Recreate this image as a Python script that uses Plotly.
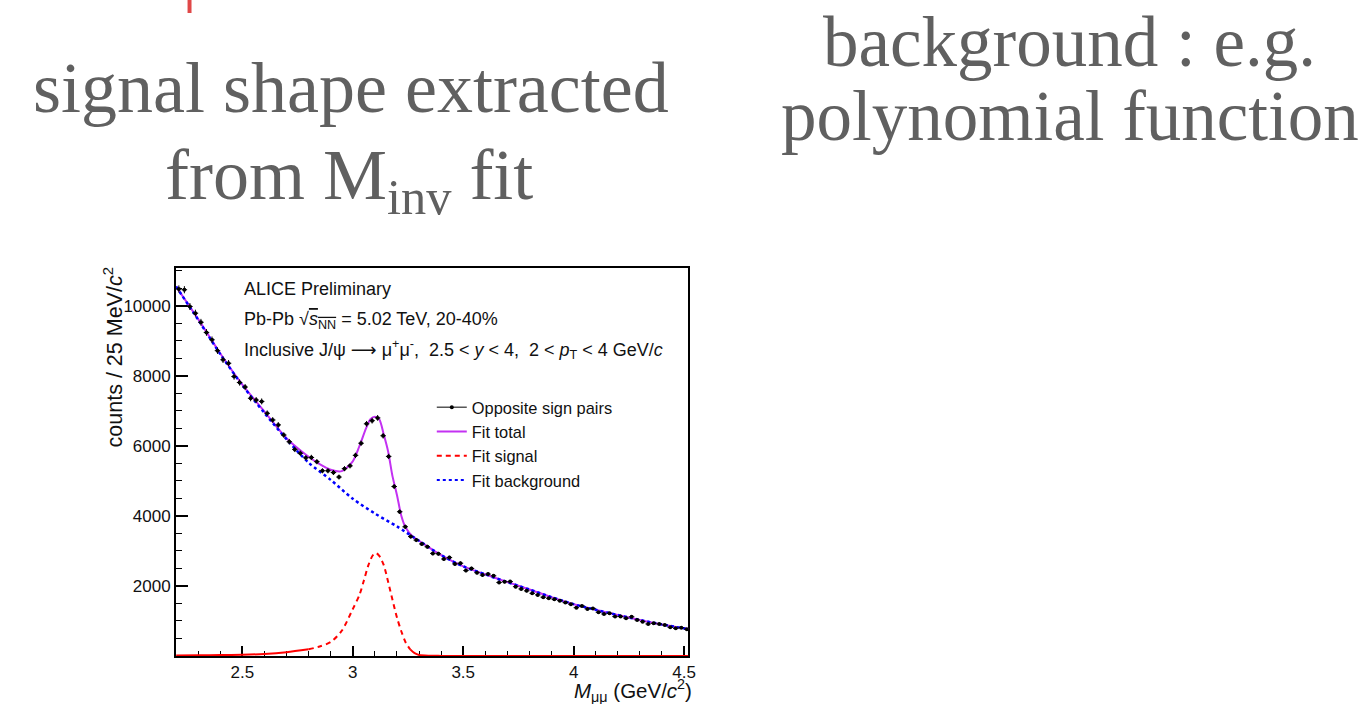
import numpy as np
import plotly.graph_objects as go

# ---------------- data ----------------
# opposite-sign dimuon counts, 25 MeV bins starting at 2.2 GeV/c^2
bin_low = 2.2
bin_width = 0.025
counts = [
    10480, 10460, 9980, 9790, 9530, 9240, 9030, 8720, 8460, 8360,
    7980, 7810, 7680, 7360, 7310, 7270, 6930, 6740, 6600, 6310,
    6120, 5900, 5790, 5660, 5670, 5550, 5290, 5290, 5240, 5110,
    5350, 5430, 5730, 6076, 6630, 6720, 6800, 6290, 5700, 4840,
    4120, 3690, 3410, 3310, 3200, 3120, 2930, 2920, 2770, 2810,
    2630, 2650, 2440, 2500, 2380, 2310, 2340, 2290, 2100, 2120,
    2125, 1980, 1915, 1860, 1790, 1745, 1680, 1650, 1620, 1580,
    1525, 1480, 1380, 1430, 1345, 1360, 1250, 1200, 1220, 1125,
    1125, 1080, 1120, 1030, 980, 915, 935, 915, 885, 820,
    790, 810, 765,
]
mass = [bin_low + bin_width * (i + 0.5) for i in range(len(counts))]
count_err = [v ** 0.5 for v in counts]

# fit total
total_x = [2.2, 2.3, 2.4, 2.5, 2.6, 2.7, 2.8, 2.85, 2.9, 2.95, 3.0, 3.03, 3.06,
           3.08, 3.1, 3.12, 3.14, 3.16, 3.18, 3.2, 3.22, 3.24, 3.27, 3.3, 3.35,
           3.4, 3.5, 3.6, 3.7, 3.8, 3.9, 4.0, 4.1, 4.2, 4.3, 4.4, 4.5, 4.52]
total_y = [10550, 9620, 8640, 7750, 6980, 6220, 5690, 5480, 5320, 5280, 5560,
           5990, 6500, 6760, 6830, 6760, 6330, 5840, 5130, 4600, 4000, 3660,
           3420, 3290, 3080, 2880, 2560, 2330, 2110, 1900, 1680, 1480, 1320,
           1170, 1030, 900, 790, 770]

# fit background (blue dotted curve)
bkg_x = [2.2, 2.3, 2.4, 2.5, 2.6, 2.7, 2.8, 2.9, 3.0, 3.1, 3.2, 3.3, 3.4, 3.5,
         3.6, 3.7, 3.8, 3.9, 4.0, 4.1, 4.2, 4.3, 4.4, 4.5, 4.52]
bkg_y = [10550, 9600, 8620, 7730, 6940, 6190, 5520, 5030, 4490, 4070, 3700,
         3290, 2880, 2560, 2330, 2110, 1900, 1680, 1480, 1320, 1170, 1030,
         900, 790, 770]

# fit signal (red dashed curve)
sig_x = [2.2, 2.3, 2.4, 2.5, 2.6, 2.7, 2.8, 2.85, 2.9, 2.95, 3.0, 3.03, 3.05,
         3.07, 3.09, 3.105, 3.12, 3.14, 3.16, 3.18, 3.2, 3.22, 3.24, 3.26,
         3.28, 3.3, 3.35, 3.4, 3.5, 4.0, 4.52]
sig_y = [15, 20, 25, 35, 60, 110, 190, 270, 400, 720, 1340, 1740, 2150, 2580,
         2870, 2940, 2860, 2600, 2120, 1600, 1100, 700, 380, 190, 80, 30, 8, 3,
         0, 0, 0]

y_ticks = [2000, 4000, 6000, 8000, 10000]
x_ticks = [2.5, 3, 3.5, 4, 4.5]

# ---------------- figure ----------------
W, H = 1372, 704
SANS = "Liberation Sans, Arial, DejaVu Sans, sans-serif"
SERIF = "Liberation Serif, Times New Roman, serif"
GREY = "#606060"
MAGENTA = "#c331f2"

# split the signal curve: low tails drawn solid (as they appear), peak dashed
tail_thr = 200
peak_idx = [i for i, v in enumerate(sig_y) if v >= tail_thr]
p0, p1 = peak_idx[0] - 1, peak_idx[-1] + 1
tail_x = sig_x[:p0 + 1] + [None] + sig_x[p1:]
tail_y = sig_y[:p0 + 1] + [None] + sig_y[p1:]
peak_x = sig_x[p0:p1 + 1]
peak_y = sig_y[p0:p1 + 1]

fig = go.Figure()

fig.add_trace(go.Scatter(x=total_x, y=total_y, mode="lines",
                         line=dict(color=MAGENTA, width=2, shape="spline", smoothing=0.8),
                         name="Fit total", showlegend=False, hoverinfo="skip"))
fig.add_trace(go.Scatter(x=tail_x, y=tail_y, mode="lines", connectgaps=False,
                         line=dict(color="#ff0000", width=2, shape="spline", smoothing=0.8),
                         name="Fit signal", showlegend=False, hoverinfo="skip"))
fig.add_trace(go.Scatter(x=peak_x, y=peak_y, mode="lines",
                         line=dict(color="#ff0000", width=2, dash="5px,4px", shape="spline", smoothing=0.8),
                         name="Fit signal", showlegend=False, hoverinfo="skip"))
fig.add_trace(go.Scatter(x=bkg_x, y=bkg_y, mode="lines",
                         line=dict(color="#0000ff", width=2.5, dash="3px,3px", shape="spline", smoothing=0.8),
                         name="Fit background", showlegend=False, hoverinfo="skip"))
fig.add_trace(go.Scatter(x=mass, y=counts, mode="markers",
                         marker=dict(color="black", size=4),
                         error_x=dict(type="constant", value=bin_width / 2, color="black", thickness=1, width=0),
                         error_y=dict(type="data", array=count_err, color="black", thickness=1, width=0),
                         name="Opposite sign pairs", showlegend=False))

# legend-only entries
fig.add_trace(go.Scatter(x=[None], y=[None], mode="lines+markers",
                         line=dict(color="black", width=1), marker=dict(color="black", size=4),
                         name="Opposite sign pairs"))
fig.add_trace(go.Scatter(x=[None], y=[None], mode="lines",
                         line=dict(color=MAGENTA, width=2), name="Fit total"))
fig.add_trace(go.Scatter(x=[None], y=[None], mode="lines",
                         line=dict(color="#ff0000", width=2, dash="5px,4px"), name="Fit signal"))
fig.add_trace(go.Scatter(x=[None], y=[None], mode="lines",
                         line=dict(color="#0000ff", width=2, dash="3px,3px"), name="Fit background"))

x0, x1 = 177 / W, 692 / W
y0, y1 = 1 - 656 / H, 1 - 268 / H

fig.update_layout(
    width=W, height=H,
    margin=dict(l=0, r=0, t=0, b=0),
    paper_bgcolor="white", plot_bgcolor="white",
    font=dict(family=SANS, color="black"),
    showlegend=True,
    legend=dict(x=434 / W, y=1 - 390 / H, xanchor="left", yanchor="top",
                bgcolor="rgba(0,0,0,0)", borderwidth=0,
                font=dict(family=SANS, size=16.4, color="#111"),
                itemwidth=30, tracegroupgap=0),
    xaxis=dict(domain=[x0, x1], range=[2.2, 4.52], tickmode="array", tickvals=x_ticks,
               ticktext=[f"{v:g}" for v in x_ticks],
               ticks="inside", ticklen=10, tickwidth=1.5, tickcolor="black",
               minor=dict(ticks="inside", ticklen=5, tickwidth=1.2, tickcolor="black",
                          tickmode="linear", tick0=2.2, dtick=0.1),
               showline=True, linecolor="black", linewidth=2, mirror=True,
               showgrid=False, zeroline=False, layer="below traces",
               tickfont=dict(family=SANS, size=17, color="#111")),
    yaxis=dict(domain=[y0, y1], range=[0, 11080], tickmode="array", tickvals=y_ticks,
               ticktext=[str(v) for v in y_ticks],
               ticks="inside", ticklen=12, tickwidth=1.5, tickcolor="black",
               minor=dict(ticks="inside", ticklen=6, tickwidth=1.2, tickcolor="black",
                          tickmode="linear", tick0=0, dtick=500),
               showline=True, linecolor="black", linewidth=2, mirror=True,
               showgrid=False, zeroline=False, layer="below traces",
               tickfont=dict(family=SANS, size=17, color="#111")),
)

ann = []
# slide text
ann.append(dict(text="signal shape extracted", x=353 / W, y=1 - 88 / H, xref="paper", yref="paper",
                xanchor="center", yanchor="middle", showarrow=False,
                font=dict(family=SERIF, size=72, color=GREY)))
ann.append(dict(text="from M<sub>inv</sub> fit", x=351 / W, y=1 - 180 / H, xref="paper", yref="paper",
                xanchor="center", yanchor="middle", showarrow=False,
                font=dict(family=SERIF, size=72, color=GREY)))
ann.append(dict(text="background : e.g.", x=1075 / W, y=1 - 42 / H, xref="paper", yref="paper",
                xanchor="center", yanchor="middle", showarrow=False,
                font=dict(family=SERIF, size=71, color=GREY)))
ann.append(dict(text="polynomial function", x=1075 / W, y=1 - 116 / H, xref="paper", yref="paper",
                xanchor="center", yanchor="middle", showarrow=False,
                font=dict(family=SERIF, size=71, color=GREY)))

# plot texts
ann.append(dict(text="ALICE Preliminary", x=243 / W, y=1 - 289 / H, xref="paper", yref="paper",
                xanchor="left", yanchor="middle", showarrow=False,
                font=dict(family=SANS, size=18, color="#111")))
ann.append(dict(text="Pb-Pb √<span style='text-decoration:overline'><i>s</i><sub>NN</sub></span> = 5.02 TeV, 20-40%",
                x=243 / W, y=1 - 320 / H, xref="paper", yref="paper",
                xanchor="left", yanchor="middle", showarrow=False,
                font=dict(family=SANS, size=18, color="#111")))
ann.append(dict(text="Inclusive J/ψ ⟶ μ<sup>+</sup>μ<sup>-</sup>,  2.5 &lt; <i>y</i> &lt; 4,  2 &lt; <i>p</i><sub>T</sub> &lt; 4 GeV/<i>c</i>",
                x=243 / W, y=1 - 350 / H, xref="paper", yref="paper",
                xanchor="left", yanchor="middle", showarrow=False,
                font=dict(family=SANS, size=18, color="#111")))

# axis titles
ann.append(dict(text="counts / 25 MeV/<i>c</i><sup>2</sup>", x=114 / W, y=1 - 357 / H,
                xref="paper", yref="paper", textangle=-90,
                xanchor="center", yanchor="middle", showarrow=False,
                font=dict(family=SANS, size=21.5, color="#111")))
ann.append(dict(text="<i>M</i><sub>μμ</sub> (GeV/<i>c</i><sup>2</sup>)", x=698 / W, y=1 - 690.5 / H,
                xref="paper", yref="paper",
                xanchor="right", yanchor="middle", showarrow=False,
                font=dict(family=SANS, size=20.5, color="#111")))

fig.update_layout(annotations=ann)

# small red slide mark at the top
fig.add_shape(type="rect", xref="paper", yref="paper",
              x0=188.5 / W, x1=192.5 / W, y0=1 - 13 / H, y1=1.0,
              fillcolor="#e04848", line=dict(width=0), layer="above")

fig.write_html("out.html")
